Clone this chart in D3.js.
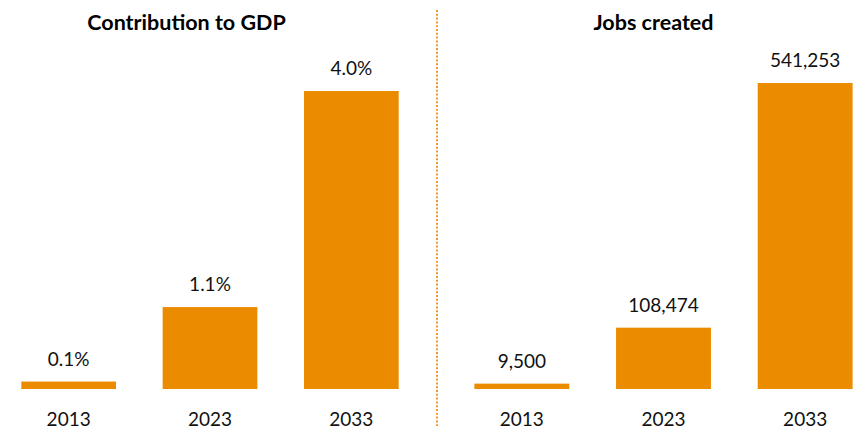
<!DOCTYPE html>
<html>
<head>
<meta charset="utf-8">
<script src="https://cdn.jsdelivr.net/npm/d3@7"></script>
<style>
  html, body { margin: 0; padding: 0; background: #fff; }
  svg { display: block; font-family: Lato, "Open Sans", sans-serif; }
</style>
</head>
<body>
<svg id="chart" width="859" height="430"></svg>
<script>
// Years shown in both panels
const years = ["2013", "2023", "2033"];
// GDP contribution, percent
const gdpShare = [0.1, 1.1, 4.0];
// Number of jobs created
const jobs = [9500, 108474, 541253];

const panelTitles = ["Contribution to GDP", "Jobs created"];

const svg = d3.select("#chart");
const orange = "#EB8C00";
const baseY = 389;

const panels = [
  {
    title: panelTitles[0], titleX: 186.5,
    values: gdpShare, xRange: [-2, 422], yTop: 91, yMax: 4.0,
    fmt: d => d3.format(".1f")(d) + "%"
  },
  {
    title: panelTitles[1], titleX: 653.5,
    values: jobs, xRange: [451, 876], yTop: 83, yMax: 541253,
    fmt: d3.format(",")
  }
];

panels.forEach(p => {
  const x = d3.scaleBand().domain(years).range(p.xRange)
    .paddingInner(0.33).paddingOuter(0.165);
  const y = d3.scaleLinear().domain([0, p.yMax]).range([baseY, p.yTop]);
  const rows = years.map((yr, i) => ({ year: yr, value: p.values[i] }));

  const g = svg.append("g");

  g.append("text")
    .attr("x", p.titleX).attr("y", 30)
    .attr("text-anchor", "middle")
    .attr("font-weight", 700).attr("font-size", 21.5)
    .attr("fill", "#000")
    .text(p.title);

  g.selectAll("rect.bar").data(rows).join("rect")
    .attr("class", "bar")
    .attr("x", d => x(d.year))
    .attr("width", x.bandwidth())
    .attr("y", d => y(d.value))
    .attr("height", d => baseY - y(d.value))
    .attr("fill", orange);

  g.selectAll("text.val").data(rows).join("text")
    .attr("class", "val")
    .attr("x", d => x(d.year) + x.bandwidth() / 2)
    .attr("y", d => y(d.value) - 16)
    .attr("text-anchor", "middle")
    .attr("font-size", 19)
    .attr("fill", "#111")
    .text(d => p.fmt(d.value));

  const axis = g.append("g")
    .attr("transform", `translate(0,${baseY})`)
    .call(d3.axisBottom(x).tickSize(0).tickPadding(23.5));
  axis.select(".domain").remove();
  axis.selectAll("text")
    .attr("font-size", 19)
    .attr("font-family", "Lato, 'Open Sans', sans-serif")
    .attr("fill", "#111");
});

// Dotted divider between the two panels
svg.append("line")
  .attr("x1", 437).attr("x2", 437)
  .attr("y1", 10).attr("y2", 426)
  .attr("stroke", "#EE9A2A")
  .attr("stroke-width", 2)
  .attr("stroke-dasharray", "2,1.8");
</script>
</body>
</html>
